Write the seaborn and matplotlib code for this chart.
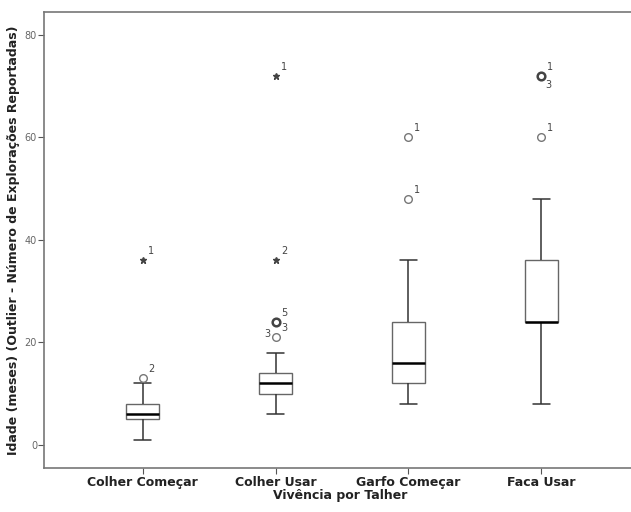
import matplotlib
matplotlib.use("Agg")
import matplotlib.pyplot as plt
import pandas as pd
import seaborn as sns

# Box summaries (whisker low, Q1, median, Q3, whisker high) per group
categories = ["Colher Começar", "Colher Usar", "Garfo Começar", "Faca Usar"]
box_colher_comecar = [1, 5, 6, 8, 12]
box_colher_usar = [6, 10, 12, 14, 18]
box_garfo_comecar = [8, 12, 16, 24, 36]
box_faca_usar = [8, 24, 24, 36, 48]

# Outliers: group, value, kind (o = outlier, * = extreme), label, bold (overlapping)
out_group = ["Colher Começar", "Colher Começar", "Colher Usar", "Colher Usar",
             "Colher Usar", "Colher Usar", "Garfo Começar", "Garfo Começar",
             "Faca Usar", "Faca Usar"]
out_value = [13, 36, 21, 24, 36, 72, 48, 60, 60, 72]
out_kind = ["o", "*", "o", "o", "*", "*", "o", "o", "o", "o"]
out_label = ["2", "1", "3", "5", "2", "1", "1", "1", "1", "1"]
out_bold = [False, False, False, True, False, False, False, False, False, True]

sns.set_style("white")
plt.rcParams["font.family"] = ["DejaVu Sans"]

df = pd.DataFrame({
    "grupo": [c for c, b in zip(categories, [box_colher_comecar, box_colher_usar,
                                               box_garfo_comecar, box_faca_usar]) for _ in b],
    "idade": box_colher_comecar + box_colher_usar + box_garfo_comecar + box_faca_usar,
})

fig = plt.figure(figsize=(6.31, 5.12), dpi=100)
ax = fig.add_axes([0.0697, 0.086, 0.94, 0.891])

# 5-value lists -> quartiles land exactly on the summaries; whiskers span min..max
sns.boxplot(data=df, x="grupo", y="idade", order=categories, whis=(0, 100),
            width=0.25, showfliers=False, color="white", linecolor="#333333",
            linewidth=1.1, ax=ax,
            boxprops=dict(edgecolor="#666666", linewidth=1.0),
            medianprops=dict(color="black", linewidth=1.8),
            whiskerprops=dict(color="#333333", linewidth=1.1),
            capprops=dict(color="#333333", linewidth=1.1))

# Outlier markers and case labels
for g, v, k, lab, b in zip(out_group, out_value, out_kind, out_label, out_bold):
    xi = categories.index(g)
    if k == "*":
        ax.plot(xi, v, marker="*", ms=5, color="#444444", mec="#444444", ls="none")
    else:
        ax.plot(xi, v, marker="o", ms=5.5, mfc="white", mec="#444444" if b else "#777777",
                mew=1.8 if b else 1.0, ls="none")
    ax.annotate(lab, (xi, v), xytext=(4, 3), textcoords="offset points",
                fontsize=7, color="#444444", ha="left", va="bottom")
# extra case labels on overlapping points
ax.annotate("3", (1, 21), xytext=(-4, -1), textcoords="offset points",
            fontsize=7, color="#444444", ha="right", va="bottom")
ax.annotate("3", (3, 72), xytext=(3, -3), textcoords="offset points",
            fontsize=7, color="#444444", ha="left", va="top")

ax.set_xlim(-0.742, 3.72)
ax.set_ylim(-4.5, 84.5)
ax.set_yticks([0, 20, 40, 60, 80])
ax.tick_params(axis="y", labelsize=7, labelcolor="#666666", length=4, width=0.8,
               color="#555555", left=True, pad=1)
ax.tick_params(axis="x", labelsize=9, length=4, width=0.8, color="#555555",
               bottom=True, pad=2)
for t in ax.get_xticklabels():
    t.set_fontweight("bold")
    t.set_color("#222222")
ax.set_xlabel("Vivência por Talher", fontsize=9, fontweight="bold", color="#222222",
              labelpad=0)
ax.set_ylabel("Idade (meses) (Outlier - Número de Explorações Reportadas)", fontsize=9,
              fontweight="bold", color="#222222", labelpad=3)
for s in ["left", "bottom", "top"]:
    ax.spines[s].set_color("#777777")
    ax.spines[s].set_linewidth(1.2)
ax.spines["right"].set_visible(False)

fig.savefig("out.png", dpi=100)
